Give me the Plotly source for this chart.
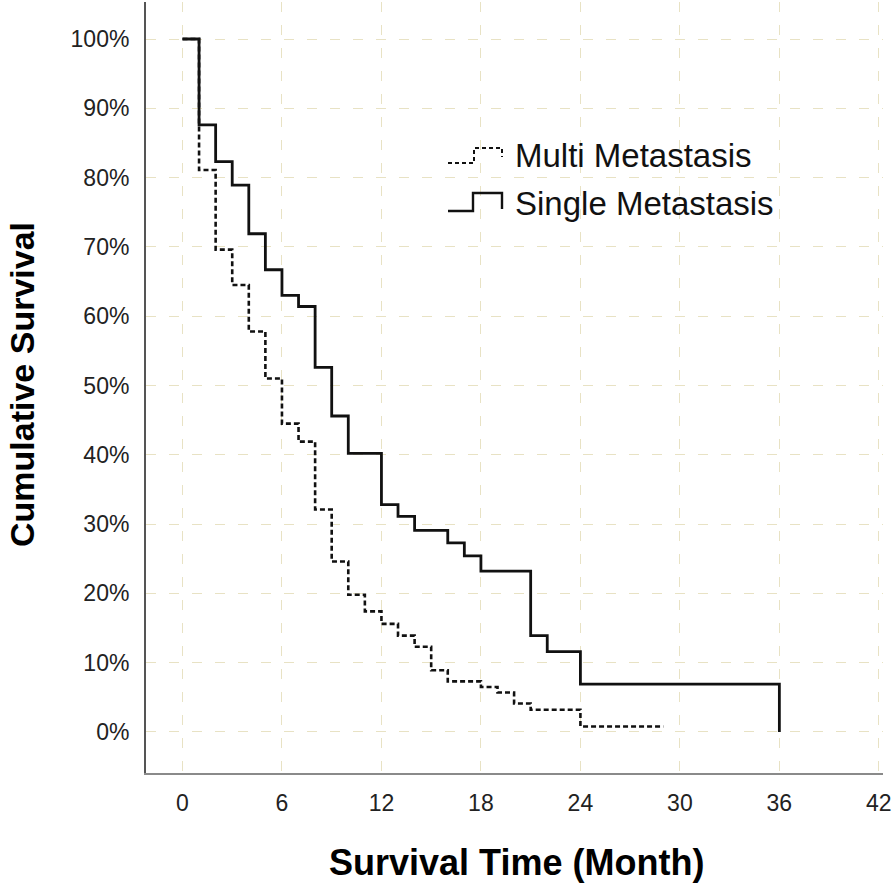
import plotly.graph_objects as go

# Kaplan-Meier step data (months, cumulative survival %)
single_t = [0, 1, 2, 3, 4, 5, 6, 7, 8, 9, 10, 12, 13, 14, 16, 17, 18, 21, 22, 24, 36]
single_s = [100, 87.6, 82.3, 78.9, 71.9, 66.7, 63.0, 61.4, 52.6, 45.6, 40.2, 32.8, 31.1, 29.1,
            27.3, 25.4, 23.2, 13.9, 11.6, 6.9, 0]
multi_t = [0, 1, 2, 3, 4, 5, 6, 7, 8, 9, 10, 11, 12, 13, 14, 15, 16, 18, 19, 20, 21, 24, 29]
multi_s = [100, 81.1, 69.6, 64.5, 57.8, 51.0, 44.5, 41.9, 32.1, 24.6, 19.8, 17.4, 15.6, 13.9,
           12.3, 8.9, 7.3, 6.5, 5.7, 4.1, 3.2, 0.8, 0.8]

x_ticks = [0, 6, 12, 18, 24, 30, 36, 42]
y_ticks = [0, 10, 20, 30, 40, 50, 60, 70, 80, 90, 100]
y_labels = [f"{v}%" for v in y_ticks]
series_names = ["Multi Metastasis", "Single Metastasis"]

W, H = 893, 890
ML, MR, MT, MB = 146, 10, 2, 117
PW, PH = W - ML - MR, H - MT - MB


def px(sx):
    return (sx - ML) / PW


def py(sy):
    return (H - MB - sy) / PH


fig = go.Figure()
fig.add_trace(go.Scatter(x=multi_t, y=multi_s, mode="lines", line_shape="hv",
                         name=series_names[0],
                         line=dict(color="#111", width=2.6, dash="5px,3px")))
fig.add_trace(go.Scatter(x=single_t, y=single_s, mode="lines", line_shape="hv",
                         name=series_names[1],
                         line=dict(color="#111", width=2.8)))

grid = "#e8e2c4"
fig.update_xaxes(range=[-2.2, 42.25], tickvals=x_ticks, ticktext=[str(v) for v in x_ticks],
                 showgrid=True, gridcolor=grid, gridwidth=1, griddash="10px,13px",
                 zeroline=False, showline=True, linecolor="#8a8a8a", linewidth=2,
                 ticks="", ticklabelstandoff=8, automargin=False, ticklabeloverflow="allow",
                 tickfont=dict(family="Liberation Sans, Arial", size=23, color="#222"))
fig.update_yaxes(range=[-5.92, 105.34], tickvals=y_ticks, ticktext=y_labels,
                 showgrid=True, gridcolor=grid, gridwidth=1, griddash="10px,13px",
                 zeroline=False, showline=True, linecolor="#555", linewidth=2,
                 ticks="", ticklabelstandoff=10, automargin=False,
                 tickfont=dict(family="Liberation Sans, Arial", size=23, color="#222"))

ann = []
ann.append(dict(text="<b>Survival Time (Month)</b>", xref="paper", yref="paper",
                x=px(516), y=py(862), xanchor="center", yanchor="middle", showarrow=False,
                font=dict(family="Liberation Sans, Arial", size=36, color="#000")))
ann.append(dict(text="<b>Cumulative Survival</b>", xref="paper", yref="paper",
                x=px(22), y=py(385), xanchor="center", yanchor="middle", showarrow=False,
                textangle=-90,
                font=dict(family="Liberation Sans, Arial", size=34, color="#000")))
for name, yc in zip(series_names, [156, 204]):
    ann.append(dict(text=name, xref="paper", yref="paper", x=px(513), y=py(yc),
                    xanchor="left", yanchor="middle", showarrow=False,
                    font=dict(family="Liberation Sans, Arial", size=33, color="#111")))


# custom step-shaped legend icons
def step_path(x0, x1, x2, ybase, ytop, yend):
    return (f"M {px(x0)},{py(ybase)} L {px(x1)},{py(ybase)} L {px(x1)},{py(ytop)} "
            f"L {px(x2)},{py(ytop)} L {px(x2)},{py(yend)}")


shapes = [
    dict(type="path", xref="paper", yref="paper", path=step_path(448, 474, 502, 163, 148, 157),
         line=dict(color="#111", width=2, dash="4px,3px")),
    dict(type="path", xref="paper", yref="paper", path=step_path(448, 473, 502, 211, 193, 209),
         line=dict(color="#111", width=2.4)),
]

fig.update_layout(width=W, height=H, margin=dict(l=ML, r=MR, t=MT, b=MB),
                  paper_bgcolor="white", plot_bgcolor="white", showlegend=False,
                  annotations=ann, shapes=shapes)

# remove the default page margin so the figure fills the 893x890 window exactly
fig.write_html("out.html",
               config={"displayModeBar": False},
               post_script="document.body.style.margin='0';"
                           "document.body.style.overflow='hidden';")
